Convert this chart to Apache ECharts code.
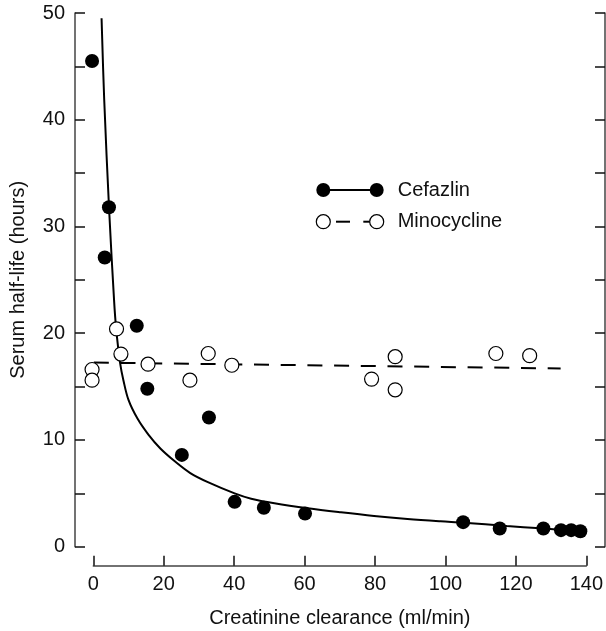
<!DOCTYPE html>
<html>
<head>
<meta charset="utf-8">
<script src="https://cdn.jsdelivr.net/npm/echarts@6/dist/echarts.min.js"></script>
<style>
  html, body { margin: 0; padding: 0; background: #fff; }
  #main { width: 606px; height: 631px; }
</style>
</head>
<body>
<div id="main"></div>
<script>
// measured points, x = creatinine clearance (ml/min), y = half-life (hours)
var cefazlinPts = [
  [-0.9, 45.5], [3.9, 31.8], [2.7, 27.1], [11.8, 20.7], [14.8, 14.8],
  [32.3, 12.1], [24.6, 8.6], [39.6, 4.2], [47.9, 3.65], [59.6, 3.1],
  [104.5, 2.3], [114.9, 1.7], [127.3, 1.7], [132.3, 1.55], [135.2, 1.55], [137.8, 1.45]
];
var minocyclinePts = [
  [-0.9, 16.6], [-0.9, 15.6], [6.05, 20.4], [7.3, 18.05], [15.0, 17.1],
  [26.9, 15.6], [32.1, 18.1], [38.8, 17.0], [78.5, 15.7], [85.2, 17.8],
  [85.2, 14.7], [113.8, 18.1], [123.4, 17.9]
];
// fitted curve
var cefazlinCurve = [
  [1.8, 49.5], [2.55, 41.9], [3.96, 31.5], [5.35, 23.1], [5.95, 20.4],
  [7.07, 17.2], [8.0, 15.6], [9.45, 13.75], [12, 12.0], [15.1, 10.5], [18.5, 9.2],
  [22.6, 8.0], [27, 6.9], [32, 6.05], [39.6, 5.0], [44.3, 4.5], [50.9, 4.07],
  [60.4, 3.6], [69.8, 3.22], [79.2, 2.88], [88.7, 2.6], [98.1, 2.38],
  [104.7, 2.25], [116.9, 1.94], [126.4, 1.72], [135.8, 1.5], [139.6, 1.4]
];
var minocyclineLine = [[-0.4, 17.25], [132.2, 16.7]];
var xTicks = [0, 140, 20];   // min, max, step
var yTicks = [0, 50, 5];

var font = 'Liberation Sans, Arial, sans-serif';
var ink = '#111';
var axisGray = '#444';

var chart = echarts.init(document.getElementById('main'));

chart.setOption({
  animation: false,
  backgroundColor: '#fff',
  grid: [
    { left: 73, right: 1, top: 13, bottom: 84.3 },
    { left: 93.3, right: 18, top: 564.7, height: 1 }
  ],
  xAxis: [
    { type: 'value', gridIndex: 0, min: -5.745, max: 144.8, show: false },
    {
      type: 'value', gridIndex: 1, min: xTicks[0], max: xTicks[1], interval: xTicks[2],
      position: 'bottom',
      name: 'Creatinine clearance (ml/min)', nameLocation: 'middle', nameGap: 43,
      nameTextStyle: { fontFamily: font, fontSize: 20, color: ink },
      axisLine: { onZero: false, lineStyle: { color: axisGray, width: 1.5 } },
      axisTick: { inside: true, length: 10, lineStyle: { color: ink, width: 1.5 } },
      axisLabel: { margin: 9, fontFamily: font, fontSize: 20, color: ink },
      splitLine: { show: false }
    }
  ],
  yAxis: [
    {
      type: 'value', gridIndex: 0, min: yTicks[0], max: yTicks[1], interval: yTicks[2],
      position: 'left',
      name: 'Serum half-life (hours)', nameLocation: 'middle', nameGap: 47,
      nameTextStyle: { fontFamily: font, fontSize: 20, color: ink },
      axisLine: { show: true, onZero: false, lineStyle: { color: axisGray, width: 1.5 } },
      axisTick: { show: true, inside: true, length: 10, lineStyle: { color: ink, width: 1.5 } },
      axisLabel: {
        margin: 10, fontFamily: font, fontSize: 20, color: ink,
        formatter: function (v) { return v % 10 === 0 ? String(v) : ''; }
      },
      splitLine: { show: false }
    },
    {
      type: 'value', gridIndex: 0, min: yTicks[0], max: yTicks[1], interval: yTicks[2],
      position: 'right',
      axisLine: { show: true, onZero: false, lineStyle: { color: axisGray, width: 1.5 } },
      axisTick: { show: true, inside: true, length: 10, lineStyle: { color: ink, width: 1.5 } },
      axisLabel: { show: false },
      splitLine: { show: false }
    },
    { type: 'value', gridIndex: 1, show: false, min: 0, max: 1 }
  ],
  series: [
    {
      name: 'Cefazlin fit', type: 'line', data: cefazlinCurve,
      smooth: 0.35, showSymbol: false, symbol: 'none',
      lineStyle: { color: '#000', width: 2 }, z: 2, silent: true
    },
    {
      name: 'Minocycline fit', type: 'line', data: minocyclineLine,
      showSymbol: false, symbol: 'none',
      lineStyle: { color: '#000', width: 2, type: [15, 11.7] }, z: 2, silent: true
    },
    {
      name: 'Cefazlin', type: 'scatter', data: cefazlinPts,
      symbol: 'circle', symbolSize: 14,
      itemStyle: { color: '#000', opacity: 1 }, z: 4
    },
    {
      name: 'Minocycline', type: 'scatter', data: minocyclinePts,
      symbol: 'circle', symbolSize: 14,
      itemStyle: { color: '#fff', borderColor: '#000', borderWidth: 1.2, opacity: 1 }, z: 3
    }
  ],
  graphic: [
    // legend: filled dots joined by solid line
    { type: 'line', shape: { x1: 323, y1: 190, x2: 377, y2: 190 }, style: { stroke: '#000', lineWidth: 2 } },
    { type: 'circle', shape: { cx: 323.3, cy: 190, r: 7 }, style: { fill: '#000' } },
    { type: 'circle', shape: { cx: 376.7, cy: 190, r: 7 }, style: { fill: '#000' } },
    { type: 'text', x: 397.7, y: 190, style: { text: 'Cefazlin', font: '20px ' + font, fill: ink, verticalAlign: 'middle' } },
    // legend: open dots joined by dashes
    { type: 'line', shape: { x1: 336, y1: 221.7, x2: 350, y2: 221.7 }, style: { stroke: '#000', lineWidth: 2 } },
    { type: 'line', shape: { x1: 363.3, y1: 221.7, x2: 372, y2: 221.7 }, style: { stroke: '#000', lineWidth: 2 } },
    { type: 'circle', shape: { cx: 323.3, cy: 221.7, r: 7 }, style: { fill: '#fff', stroke: '#000', lineWidth: 1.2 } },
    { type: 'circle', shape: { cx: 376.7, cy: 221.7, r: 7 }, style: { fill: '#fff', stroke: '#000', lineWidth: 1.2 } },
    { type: 'text', x: 397.7, y: 221.7, style: { text: 'Minocycline', font: '20px ' + font, fill: ink, verticalAlign: 'middle' } }
  ]
});
</script>
</body>
</html>
